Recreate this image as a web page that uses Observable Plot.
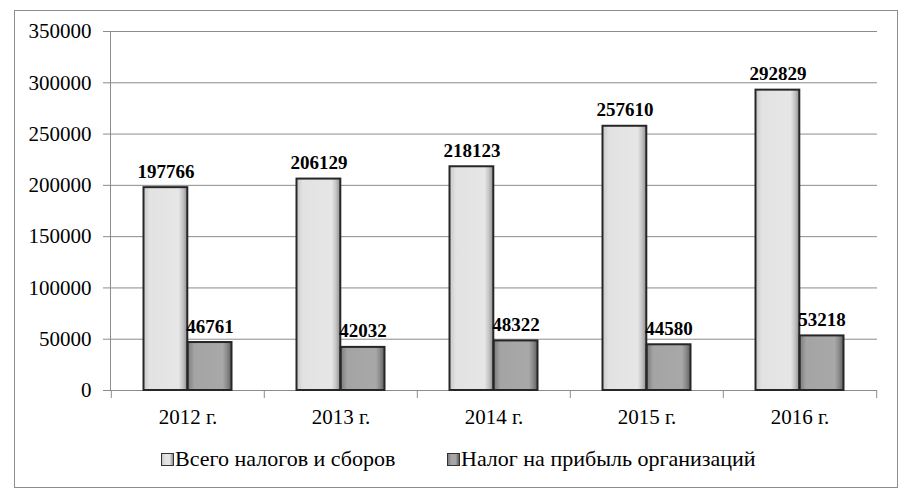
<!DOCTYPE html>
<html><head><meta charset="utf-8">
<script src="https://cdn.jsdelivr.net/npm/d3@7"></script>
<script src="https://cdn.jsdelivr.net/npm/@observablehq/plot@0.6"></script>
<style>
body{margin:0;background:#fff;}
#wrap{position:relative;width:900px;height:500px;overflow:hidden;font-family:"Liberation Serif",serif;}
#frame{position:absolute;left:14px;top:10px;width:884px;height:478px;border:1px solid #8c8c8c;box-sizing:border-box;pointer-events:none;}
#chart{position:absolute;left:0;top:0;}
#legend{position:absolute;top:446px;left:0;width:900px;height:30px;font-size:22px;color:#000;font-family:"Liberation Serif",serif;}
.item{position:absolute;top:0;display:flex;align-items:center;white-space:nowrap;font-family:"Liberation Serif",serif;}
.sw{width:11px;height:11px;border:1px solid #333;margin-right:1px;}
svg text{font-family:"Liberation Serif",serif;font-variant:normal;}
</style></head>
<body>
<div id="wrap">
  <div id="chart"></div>
  <div id="frame"></div>
  <div id="legend"></div>
</div>
<script>
// ---- data ----
const years = ["2012 г.", "2013 г.", "2014 г.", "2015 г.", "2016 г."];
const seriesNames = ["Всего налогов и сборов", "Налог на прибыль организаций"];
const totalTaxes = [197766, 206129, 218123, 257610, 292829];
const profitTax = [46761, 42032, 48322, 44580, 53218];
const yTicks = [0, 50000, 100000, 150000, 200000, 250000, 300000, 350000];

const rowsTotal = years.map((y, i) => ({year: y, series: seriesNames[0], value: totalTaxes[i]}));
const rowsProfit = years.map((y, i) => ({year: y, series: seriesNames[1], value: profitTax[i]}));

const W = 900, H = 440, ML = 110, MR = 23, MT = 31, MB = 50;
const bw = (W - ML - MR) / years.length;
const barW = 44.2;
const innerGap = bw / 2 - barW;
const serif = "'Liberation Serif', serif";

const defs = () => {
  const d = d3.create("svg:defs");
  const mk = (id, stops) => {
    const g = d.append("linearGradient").attr("id", id).attr("x1", 0).attr("x2", 1).attr("y1", 0).attr("y2", 0);
    stops.forEach(([o, c]) => g.append("stop").attr("offset", o).attr("stop-color", c));
  };
  mk("gLight", [[0, "#c8c8c8"], [0.14, "#e2e2e2"], [0.8, "#e6e6e6"], [0.9, "#c4c4c4"], [1, "#8e8e8e"]]);
  mk("gDark", [[0, "#7c7c7c"], [0.15, "#a4a4a4"], [0.8, "#a8a8a8"], [0.9, "#8a8a8a"], [1, "#5e5e5e"]]);
  return d.node();
};

const chart = Plot.plot({
  width: W,
  height: H,
  marginLeft: ML,
  marginRight: MR,
  marginTop: MT,
  marginBottom: MB,
  style: {fontFamily: serif, fontSize: "21px", color: "#000", background: "transparent", overflow: "visible"},
  x: {domain: years, paddingInner: 0, paddingOuter: 0, label: null},
  y: {domain: [0, 350000], label: null},
  marks: [
    defs,
    Plot.ruleY(yTicks, {stroke: "#8c8c8c", strokeWidth: 1}),
    Plot.frame({anchor: "left", stroke: "#8c8c8c"}),
    Plot.ruleX(years, {x: d => d, dx: -bw / 2, insetTop: H - MT - MB, insetBottom: -8, stroke: "#8c8c8c"}),
    Plot.ruleX([years[years.length - 1]], {x: d => d, dx: bw / 2, insetTop: H - MT - MB, insetBottom: -8, stroke: "#8c8c8c"}),
    Plot.axisY({ticks: yTicks, tickSize: 7, tickPadding: 12, tickFormat: d3.format("d"), stroke: "#8c8c8c",
      fontSize: 21, fontFamily: serif, fontVariant: "normal", label: null}),
    Plot.axisX({tickSize: 0, tickPadding: 19, fontSize: 21, fontFamily: serif, label: null}),
    Plot.barY(rowsTotal, {x: "year", y: "value", fill: "url(#gLight)", stroke: "#262626", strokeWidth: 2,
      insetLeft: innerGap, insetRight: bw / 2}),
    Plot.barY(rowsProfit, {x: "year", y: "value", fill: "url(#gDark)", stroke: "#262626", strokeWidth: 2,
      insetLeft: bw / 2, insetRight: innerGap}),
    Plot.text(rowsTotal, {x: "year", y: "value", text: d => String(d.value), dx: -barW / 2, dy: -10,
      lineAnchor: "bottom", fontWeight: "bold", fontSize: 19, fontFamily: serif}),
    Plot.text(rowsProfit, {x: "year", y: "value", text: d => String(d.value), dx: barW / 2, dy: -10,
      lineAnchor: "bottom", fontWeight: "bold", fontSize: 19, fontFamily: serif})
  ]
});
document.getElementById("chart").appendChild(chart);

// legend
const legend = document.getElementById("legend");
const legendPos = [161, 447];
const legendFill = ["linear-gradient(90deg,#c8c8c8,#e4e4e4 30%,#e4e4e4 70%,#8e8e8e)", "linear-gradient(90deg,#7c7c7c,#a6a6a6 30%,#a6a6a6 70%,#5e5e5e)"];
seriesNames.forEach((name, i) => {
  const it = document.createElement("div");
  it.className = "item";
  it.style.left = legendPos[i] + "px";
  const sw = document.createElement("span");
  sw.className = "sw";
  sw.style.background = legendFill[i];
  const t = document.createElement("span");
  t.textContent = name;
  t.style.fontFamily = serif;
  it.appendChild(sw); it.appendChild(t);
  legend.appendChild(it);
});
</script>
</body></html>
